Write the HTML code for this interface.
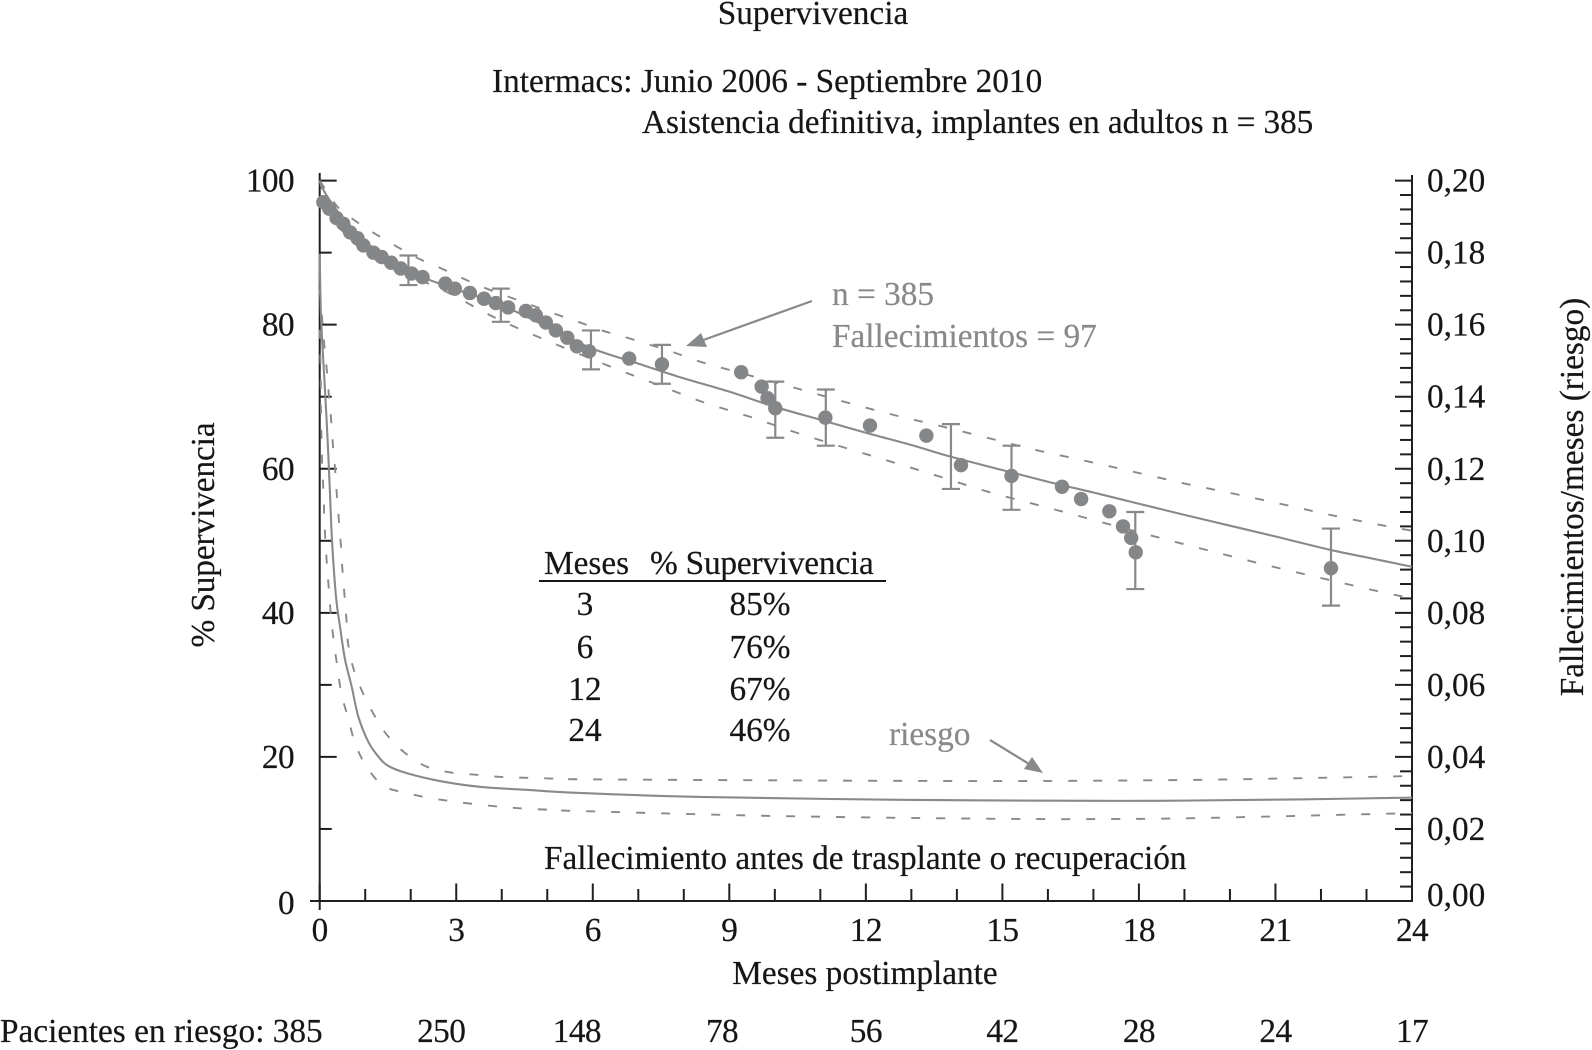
<!DOCTYPE html>
<html lang="es">
<head>
<meta charset="utf-8">
<title>Supervivencia</title>
<style>
html,body{margin:0;padding:0;background:#fff;width:1592px;height:1050px;overflow:hidden}
svg{display:block}
text{font-family:"Liberation Serif",serif;font-size:33.3px;fill:#161616;stroke:#161616;stroke-width:.2px}
.g{fill:#88898b;stroke:#88898b}
.tight{letter-spacing:-.6px}
</style>
</head>
<body>
<svg id="chart" width="1592" height="1050" viewBox="0 0 1592 1050" xmlns="http://www.w3.org/2000/svg">
<text x="813" y="24" text-anchor="middle">Supervivencia</text>
<text x="492" y="92">Intermacs: Junio 2006 - Septiembre 2010</text>
<text x="642" y="133" style="letter-spacing:-.08px">Asistencia definitiva, implantes en adultos n = 385</text>
<text transform="translate(214,535) rotate(-90)" text-anchor="middle" style="letter-spacing:-.1px">% Supervivencia</text>
<text transform="translate(1583,497) rotate(-90)" text-anchor="middle">Fallecimientos/meses (riesgo)</text>
<text x="865" y="984" text-anchor="middle">Meses postimplante</text>
<text x="0" y="1042">Pacientes en riesgo: 385</text>
<g id="axes"></g>
<g id="marks"></g>
<g>
<text class="g" x="832" y="305">n = 385</text>
<text class="g" x="832" y="347">Fallecimientos = 97</text>
<line x1="812" y1="301" x2="695" y2="343" stroke="#88898b" stroke-width="2.2"/>
<polygon points="686,346 701,333 707,347" fill="#88898b"/>
</g>
<g>
<text class="g" x="889" y="745">riesgo</text>
<line x1="990" y1="740" x2="1034" y2="767" stroke="#88898b" stroke-width="2.2"/>
<polygon points="1043,773 1024,769 1032,757" fill="#88898b"/>
</g>
<g>
<text x="544" y="574">Meses</text>
<text x="650" y="574" style="letter-spacing:-.2px">% Supervivencia</text>
<line x1="539" y1="581" x2="886" y2="581" stroke="#161616" stroke-width="2"/>
<text x="585" y="615" text-anchor="middle">3</text>
<text x="760" y="615" text-anchor="middle">85%</text>
<text x="585" y="658" text-anchor="middle">6</text>
<text x="760" y="658" text-anchor="middle">76%</text>
<text x="585" y="700" text-anchor="middle">12</text>
<text x="760" y="700" text-anchor="middle">67%</text>
<text x="585" y="741" text-anchor="middle">24</text>
<text x="760" y="741" text-anchor="middle">46%</text>
</g>
<text x="544" y="869">Fallecimiento antes de trasplante o recuperación</text>
</svg>
<script>
// Axis labels and ticks
const xTicks = [0, 3, 6, 9, 12, 15, 18, 21, 24];
const xMinorTicks = [1, 2, 4, 5, 7, 8, 10, 11, 13, 14, 16, 17, 19, 20, 22, 23];
const leftTicks = [0, 20, 40, 60, 80, 100];
const leftMinorTicks = [10, 30, 50, 70, 90];
const rightTicks = [0, 0.02, 0.04, 0.06, 0.08, 0.10, 0.12, 0.14, 0.16, 0.18, 0.20];
const rightMinorTicks = [0.004, 0.008, 0.012, 0.016, 0.024, 0.028, 0.032, 0.036, 0.044, 0.048, 0.052, 0.056, 0.064, 0.068, 0.072, 0.076, 0.084, 0.088, 0.092, 0.096, 0.104, 0.108, 0.112, 0.116, 0.124, 0.128, 0.132, 0.136, 0.144, 0.148, 0.152, 0.156, 0.164, 0.168, 0.172, 0.176, 0.184, 0.188, 0.192, 0.196];
const atRiskMonths = [2.67, 5.65, 8.84, 12, 15, 18, 21, 24];
const atRiskCounts = [250, 148, 78, 56, 42, 28, 24, 17];

// Survival curve (month, percent)
const survivalMonths = [0, 0.1, 0.25, 0.5, 1, 1.5, 1.95, 3, 3.96, 5, 5.94, 7, 7.92, 9, 10, 11, 12, 13, 13.85, 14.95, 16, 17, 17.9, 19, 20, 21, 22.2, 23, 24];
const survivalValues = [100, 98.5, 97, 94.9, 91.6, 89, 87.3, 84.9, 82.8, 79.7, 76.8, 74.6, 72.7, 70.7, 68.6, 66.8, 65, 63.3, 61.7, 59.9, 58.2, 56.7, 55.3, 53.6, 52.1, 50.6, 48.75, 47.7, 46.4];
const survivalUpperMonths = [0, 0.4, 0.74, 1.17, 1.65, 2.13, 2.64, 3.12, 3.63, 4.14, 4.66, 5.17, 5.68, 6.2, 6.75, 7.26, 7.76, 8.29, 8.84, 10.4, 11.47, 12.53, 13.59, 14.67, 15.74, 16.82, 17.87, 18.97, 20.04, 21.13, 22.2, 23.3, 24];
const survivalUpperValues = [100, 96.3, 94.6, 92.8, 91, 89.3, 87.9, 86.5, 85.1, 83.9, 82.7, 81.5, 80.4, 79.2, 78.2, 77.2, 76.2, 75, 74, 71.3, 69.4, 67.6, 66, 64.3, 62.6, 61.1, 59.6, 58, 56.6, 55.1, 53.6, 52.2, 51.4];
const survivalLowerMonths = [0, 0.2, 0.5, 1, 1.5, 2.35, 2.9, 3.81, 4.84, 6.34, 7.37, 8.4, 9.46, 10.48, 11.55, 12.6, 13.63, 14.69, 15.76, 16.82, 17.87, 18.95, 20, 21.08, 22.16, 23.25, 24];
const survivalLowerValues = [100, 95.5, 93, 90, 88.1, 85.8, 84.2, 81.1, 78.2, 74.3, 71.8, 69.3, 67.2, 65, 62.9, 60.9, 58.9, 56.8, 55, 53.2, 51.4, 49.6, 47.9, 46.2, 44.6, 43, 42];

// Hazard curve (month, deaths per month)
const hazardMonths = [0, 0.029, 0.101, 0.154, 0.189, 0.226, 0.27, 0.358, 0.446, 0.556, 0.703, 0.848, 1.068, 1.288, 1.508, 1.912, 2.644, 3.52, 4.62, 5.72, 8.36, 12.75, 17.15, 19.17, 21.5, 24];
const hazardValues = [0.1797, 0.1622, 0.1452, 0.133, 0.1238, 0.1132, 0.1002, 0.0845, 0.0762, 0.0671, 0.0595, 0.0512, 0.0442, 0.0401, 0.0375, 0.0355, 0.0333, 0.0317, 0.0308, 0.03, 0.0289, 0.0281, 0.0278, 0.0279, 0.0282, 0.0287];
const hazardUpperMonths = [0, 0.101, 0.154, 0.198, 0.248, 0.286, 0.336, 0.374, 0.418, 0.462, 0.497, 0.541, 0.585, 0.622, 0.738, 0.936, 1.193, 1.479, 1.875, 2.35, 2.92, 3.48, 4.02, 4.55, 5.1, 5.65, 10, 15, 19, 22, 24];
const hazardUpperValues = [0.1697, 0.1544, 0.1477, 0.141, 0.1341, 0.1272, 0.1202, 0.1133, 0.1063, 0.0994, 0.0924, 0.0855, 0.0786, 0.0716, 0.0647, 0.0581, 0.0517, 0.0461, 0.0411, 0.0373, 0.0356, 0.035, 0.0344, 0.0342, 0.034, 0.0338, 0.0335, 0.0333, 0.0336, 0.0342, 0.0347];
const hazardLowerMonths = [0, 0.02, 0.03, 0.044, 0.057, 0.088, 0.101, 0.132, 0.167, 0.211, 0.255, 0.321, 0.396, 0.484, 0.629, 0.776, 1.018, 1.398, 1.897, 2.42, 2.95, 3.48, 4.03, 4.56, 5.12, 5.65, 10, 15, 18, 20, 24];
const hazardLowerValues = [0.1586, 0.1475, 0.1336, 0.1267, 0.1197, 0.1127, 0.1058, 0.0988, 0.0919, 0.085, 0.078, 0.0711, 0.0642, 0.0572, 0.0506, 0.0439, 0.0375, 0.032, 0.03, 0.0286, 0.0276, 0.0268, 0.0261, 0.0256, 0.0253, 0.025, 0.0236, 0.0228, 0.0228, 0.0232, 0.0244];

// Observed survival points
const pointMonths = [0.08, 0.21, 0.37, 0.52, 0.67, 0.83, 0.96, 1.18, 1.36, 1.57, 1.78, 2.02, 2.26, 2.76, 2.97, 3.3, 3.61, 3.87, 4.14, 4.53, 4.75, 4.97, 5.19, 5.44, 5.65, 5.92, 6.8, 7.52, 9.26, 9.71, 9.84, 10.01, 11.11, 12.09, 13.33, 14.09, 15.2, 16.31, 16.73, 17.35, 17.65, 17.83, 17.93, 22.22];
const pointValues = [97, 96.1, 94.8, 94, 92.8, 92, 91, 90, 89.4, 88.6, 87.8, 87.1, 86.6, 85.7, 85, 84.4, 83.6, 83, 82.4, 81.9, 81.3, 80.3, 79.2, 78.2, 77, 76.3, 75.3, 74.5, 73.4, 71.4, 69.8, 68.4, 67.1, 66, 64.6, 60.5, 59, 57.5, 55.8, 54.1, 52, 50.4, 48.4, 46.2];

// Error bars
const errorMonths = [1.95, 3.98, 5.96, 7.52, 10.01, 11.12, 13.87, 15.2, 17.92, 22.22];
const errorTops = [89.6, 85, 79.2, 77.2, 72.1, 71, 66.2, 63.2, 54, 51.7];
const errorBottoms = [85.5, 80.4, 73.8, 71.8, 64.3, 63.2, 57.2, 54.3, 43.3, 41];

const NS = 'http://www.w3.org/2000/svg';
const GREY = '#88898b';
const INK = '#1f1f1f';
const axesG = document.getElementById('axes');
const marksG = document.getElementById('marks');

const X0 = 319.7, X1 = 1412, Y0 = 901, Y100 = 180.6;
function xScale(m) { return X0 + (m / 24) * (X1 - X0); }
function yScale(p) { return Y0 - (p / 100) * (Y0 - Y100); }
function hScale(h) { return Y0 - (h / 0.2) * (Y0 - Y100); }

function make(parent, tag, props) {
  const el = document.createElementNS(NS, tag);
  for (const k in props) el.setAttribute(k, props[k]);
  parent.appendChild(el);
  return el;
}
// Smooth Catmull-Rom spline through the data points
function pathFrom(xs, ys, xf, yf) {
  const p = xs.map((m, i) => [xf(m), yf(ys[i])]);
  let d = 'M' + p[0][0].toFixed(2) + ' ' + p[0][1].toFixed(2);
  for (let i = 0; i < p.length - 1; i++) {
    const a = p[Math.max(i - 1, 0)], b = p[i], c = p[i + 1], e = p[Math.min(i + 2, p.length - 1)];
    const c1x = b[0] + (c[0] - a[0]) / 6, c1y = b[1] + (c[1] - a[1]) / 6;
    const c2x = c[0] - (e[0] - b[0]) / 6, c2y = c[1] - (e[1] - b[1]) / 6;
    d += ' C' + Math.max(c1x, b[0]).toFixed(2) + ' ' + c1y.toFixed(2) + ' ' + Math.min(c2x, c[0]).toFixed(2) + ' ' + c2y.toFixed(2) + ' ' + c[0].toFixed(2) + ' ' + c[1].toFixed(2);
  }
  return d;
}
function label(str, x, y, anchor, cls) {
  const t = make(axesG, 'text', { x: x, y: y, 'text-anchor': anchor });
  if (cls) t.setAttribute('class', cls);
  t.textContent = str;
  return t;
}
function tick(x1, y1, x2, y2) {
  return make(axesG, 'line', { x1: x1, y1: y1, x2: x2, y2: y2, stroke: INK, 'stroke-width': 2 });
}

// Axis lines
const leftAxis = tick(X0, 173, X0, 910);


const rightAxis = tick(X1, 175, X1, Y0 + 1);


const bottomAxis = tick(310, Y0, X1 + 1, Y0);



// X axis
xTicks.forEach(m => {
  const t = tick(xScale(m), Y0, xScale(m), Y0 - 17.5);
  
  
  const l = label(String(m), xScale(m), 941, 'middle', 'tight');
  
  
});
xMinorTicks.forEach(m => {
  const t = tick(xScale(m), Y0, xScale(m), Y0 - 12);
  
  
});

// Left axis
leftTicks.forEach(p => {
  if (p > 0) {
    const t = tick(X0, yScale(p), X0 + 17, yScale(p));
    
    
  }
  const l = label(String(p), 294, p === 0 ? 914 : yScale(p) + 11, 'end', 'tight');
  
  
});
leftMinorTicks.forEach(p => {
  const t = tick(X0, yScale(p), X0 + 12, yScale(p));
  
  
});

// Right axis
rightTicks.forEach(h => {
  if (h > 0) {
    const t = tick(X1, hScale(h), X1 - 17, hScale(h));
    
    
  }
  const l = label(h.toFixed(2).replace('.', ','), 1427, h === 0 ? 906 : hScale(h) + 11, 'start');
  
  
});
rightMinorTicks.forEach(h => {
  const t = tick(X1, hScale(h), X1 - 12, hScale(h));
  
  
});

// At-risk row
atRiskMonths.forEach((m, i) => {
  const l = label(String(atRiskCounts[i]), xScale(m), 1042, 'middle', 'tight');
  
  
});

// Curves
const solid = { fill: 'none', stroke: GREY, 'stroke-width': 2.1 };
const dashed = { fill: 'none', stroke: GREY, 'stroke-width': 1.9, 'stroke-dasharray': '9 16' };

const survivalUpper = make(marksG, 'path', Object.assign({ d: pathFrom(survivalUpperMonths, survivalUpperValues, xScale, yScale) }, dashed));


const survivalLower = make(marksG, 'path', Object.assign({ d: pathFrom(survivalLowerMonths, survivalLowerValues, xScale, yScale) }, dashed));


const survivalLine = make(marksG, 'path', Object.assign({ d: pathFrom(survivalMonths, survivalValues, xScale, yScale) }, solid));



const hazardUpper = make(marksG, 'path', Object.assign({ d: pathFrom(hazardUpperMonths, hazardUpperValues, xScale, hScale) }, dashed));


const hazardLower = make(marksG, 'path', Object.assign({ d: pathFrom(hazardLowerMonths, hazardLowerValues, xScale, hScale) }, dashed));


const hazardLine = make(marksG, 'path', Object.assign({ d: pathFrom(hazardMonths, hazardValues, xScale, hScale) }, solid));



// Error bars
errorMonths.forEach((m, i) => {
  const x = xScale(m), t = yScale(errorTops[i]), b = yScale(errorBottoms[i]);
  const bar = make(marksG, 'path', { d: `M${x - 9} ${t}H${x + 9}M${x} ${t}V${b}M${x - 9} ${b}H${x + 9}`, fill: 'none', stroke: GREY, 'stroke-width': 2.2 });
  
  
});

// Points
pointMonths.forEach((m, i) => {
  const c = make(marksG, 'circle', { cx: xScale(m), cy: yScale(pointValues[i]), r: 7.2, fill: '#858688' });
  
  
});
</script>
</body>
</html>
